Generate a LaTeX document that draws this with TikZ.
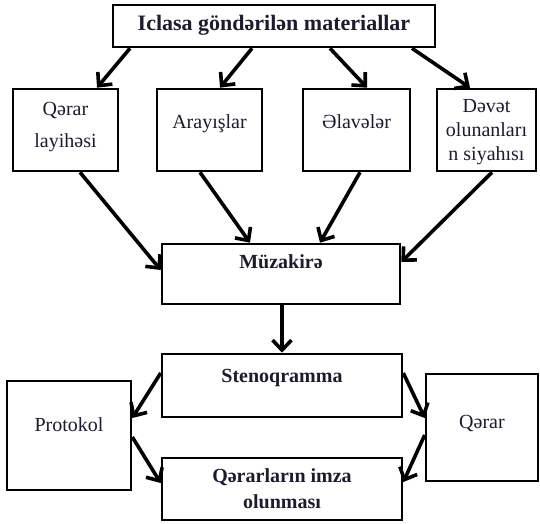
\documentclass[tikz,border=0pt]{standalone}
\usepackage{fontspec}
\setmainfont{Liberation Serif}
\usetikzlibrary{arrows.meta}
\definecolor{ink}{RGB}{28,28,44}
% box content: width, height, space above first line, text
\newcommand{\boxtext}[4]{\parbox[c][#2][t]{#1}{\centering\vspace*{#3}\strut #4\par}}
\tikzset{
  box/.style={draw, line width=2.6pt, inner sep=0pt, fill=white, text=ink,
              font=\fontsize{20}{24}\selectfont},
  conn/.style={line width=3.6pt, -{Straight Barb[length=10pt,width=19pt]}}
}
\begin{document}
\begin{tikzpicture}[x=1pt,y=-1pt]
\useasboundingbox (0,0) rectangle (540,523);

% top level
\node[box] (mat) at (274,26) {\boxtext{322pt}{42pt}{9pt}{\fontsize{22}{24}\selectfont\bfseries Iclasa göndərilən materiallar}};

% materials
\node[box] (lay) at (65.5,130) {\boxtext{105pt}{82pt}{9.5pt}{Qərar\\[8pt]layihəsi}};
\node[box] (ara) at (209.5,130) {\boxtext{105pt}{82pt}{22.5pt}{Arayışlar}};
\node[box] (ela) at (356.5,130) {\boxtext{107pt}{82pt}{22.5pt}{Əlavələr}};
\node[box] (dev) at (486.5,130) {\boxtext{99pt}{82pt}{6.5pt}{Dəvət\\olunanları\\n siyahısı}};

% discussion
\node[box] (muz) at (281,274) {\boxtext{238pt}{60pt}{7.5pt}{\bfseries Müzakirə}};

% results
\node[box] (ste) at (282,385.5) {\boxtext{240pt}{63pt}{11.5pt}{\bfseries Stenoqramma}};
\node[box] (pro) at (69,435.5) {\boxtext{124pt}{109pt}{34pt}{Protokol}};
\node[box] (qer) at (482,427.5) {\boxtext{112pt}{107pt}{38pt}{Qərar}};
\node[box] (imz) at (282,489) {\boxtext{240pt}{62pt}{7.5pt}{\bfseries Qərarların imza\\[2pt]olunması}};

% connectors
\draw[conn] ([xshift=-144pt]mat.south) -- ([xshift=31.5pt]lay.north);
\draw[conn] ([xshift=-22pt]mat.south) -- ([xshift=10.5pt]ara.north);
\draw[conn] ([xshift=56pt]mat.south) -- ([xshift=10.5pt]ela.north);
\draw[conn] ([xshift=138pt]mat.south) -- ([xshift=-16.5pt]dev.north);

\draw[conn] ([xshift=14.5pt]lay.south) -- ([yshift=4pt]muz.west);
\draw[conn] ([xshift=-9.5pt]ara.south) -- ([xshift=-31pt]muz.north);
\draw[conn] ([xshift=3.5pt]ela.south) -- ([xshift=39pt]muz.north);
\draw[conn] ([xshift=5.5pt]dev.south) -- ([yshift=12pt]muz.east);

\draw[conn] ([xshift=1pt]muz.south) -- (ste.north);

\draw[conn] ([yshift=12.5pt]ste.west) -- ([yshift=17.5pt]pro.east);
\draw[conn] ([yshift=-1.5pt]pro.east) -- ([yshift=6pt]imz.west);
\draw[conn] ([yshift=12.5pt]ste.east) -- ([yshift=9.5pt]qer.west);
\draw[conn] ([yshift=-7.5pt]qer.west) -- ([yshift=7pt]imz.east);
\end{tikzpicture}
\end{document}
